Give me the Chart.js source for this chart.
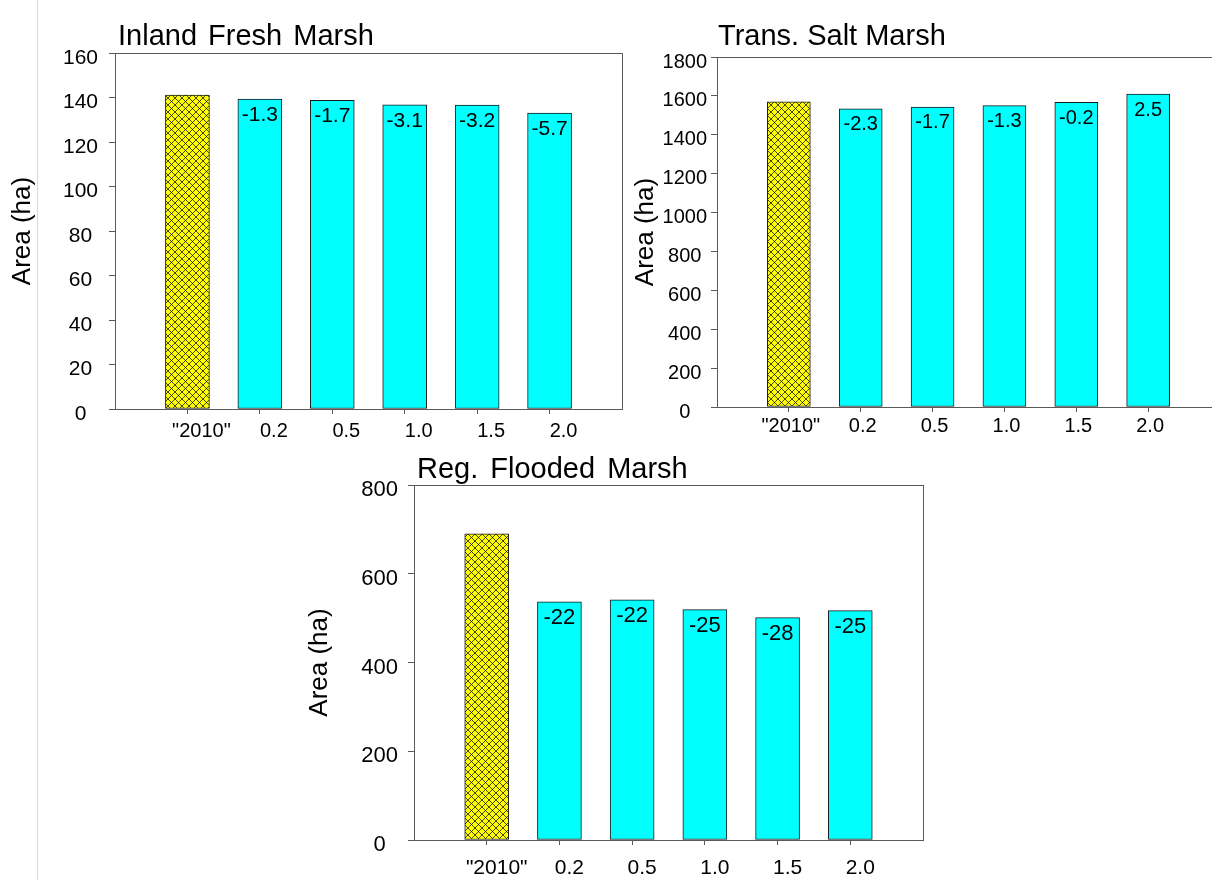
<!DOCTYPE html>
<html>
<head>
<meta charset="utf-8">
<script src="https://cdn.jsdelivr.net/npm/chart.js@4/dist/chart.umd.min.js"></script>
<style>
  html, body { margin: 0; padding: 0; background: #fff; }
  body { width: 1212px; height: 880px; position: relative; overflow: hidden; }
  .edge { position: absolute; left: 37px; top: 0; width: 1px; height: 880px; background: #d9d9d9; }
  .panel { position: absolute; }
</style>
</head>
<body>
<div class="edge"></div>
<div class="panel" style="left:0px;top:0px;"><canvas id="freshChart" width="640" height="450"></canvas></div>
<div class="panel" style="left:617px;top:0px;"><canvas id="saltChart" width="620" height="450"></canvas></div>
<div class="panel" style="left:300px;top:450px;"><canvas id="floodedChart" width="640" height="430"></canvas></div>
<script>
// scenario categories (sea level rise, m)
const scenarioLabels = ['"2010"', '0.2', '0.5', '1.0', '1.5', '2.0'];

// Inland Fresh Marsh
const freshMarshArea = [141.1, 139.3, 138.7, 136.7, 136.6, 133.0];
const freshMarshChange = ['', '-1.3', '-1.7', '-3.1', '-3.2', '-5.7'];

// Trans. Salt Marsh
const saltMarshArea = [1570, 1534, 1543, 1550, 1567, 1609];
const saltMarshChange = ['', '-2.3', '-1.7', '-1.3', '-0.2', '2.5'];

// Reg. Flooded Marsh
const floodedMarshArea = [690, 537, 541, 519, 501, 517];
const floodedMarshChange = ['', '-22', '-22', '-25', '-28', '-25'];

const FONT = '"Liberation Sans", Arial, sans-serif';
const AXIS_COLOR = '#5a5a5a';

document.addEventListener('DOMContentLoaded', function() {

    function makeHatch() {
        const c = document.createElement('canvas');
        c.width = 7;
        c.height = 7;
        const g = c.getContext('2d');
        g.fillStyle = '#ffff00';
        g.fillRect(0, 0, 7, 7);
        g.strokeStyle = 'rgba(0,0,0,0.8)';
        g.lineWidth = 0.9;
        g.beginPath();
        g.moveTo(-1, -1); g.lineTo(8, 8);
        g.moveTo(-1, 8); g.lineTo(8, -1);
        g.stroke();
        return g.createPattern(c, 'repeat');
    }

    // frame box, panel title and % change labels inside the bars
    const marshDecor = {
        id: 'marshDecor',
        afterDatasetsDraw(chart, args, opts) {
            const ctx = chart.ctx;
            const area = chart.chartArea;
            ctx.save();
            ctx.strokeStyle = AXIS_COLOR;
            ctx.lineWidth = 1;
            ctx.strokeRect(Math.round(area.left) + 0.5, Math.round(area.top) + 0.5,
                Math.round(area.right - area.left), Math.round(area.bottom - area.top));

            ctx.fillStyle = '#000';
            ctx.font = opts.titleSize + 'px ' + FONT;
            ctx.textAlign = 'left';
            ctx.textBaseline = 'alphabetic';
            if ('wordSpacing' in ctx) ctx.wordSpacing = opts.wordSpacing + 'px';
            ctx.fillText(opts.title, area.left + opts.titleDx, area.top - opts.titleGap);
            if ('wordSpacing' in ctx) ctx.wordSpacing = '0px';

            ctx.font = opts.labelSize + 'px ' + FONT;
            ctx.textAlign = 'center';
            ctx.textBaseline = 'middle';
            const meta = chart.getDatasetMeta(0);
            meta.data.forEach(function(bar, i) {
                const txt = opts.labels[i];
                if (!txt) return;
                ctx.fillText(txt, bar.x, bar.y + 16);
            });
            ctx.restore();
        }
    };

    function buildChart(canvasId, values, changes, cfg) {
        const ctx = document.getElementById(canvasId).getContext('2d');
        const hatch = makeHatch();
        const points = values.map((v, i) => ({ x: i + 1, y: v }));
        const fills = values.map((v, i) => i === 0 ? hatch : '#00ffff');

        return new Chart(ctx, {
            type: 'bar',
            data: {
                datasets: [{
                    label: 'Area',
                    data: points,
                    backgroundColor: fills,
                    borderColor: '#1a1a1a',
                    borderWidth: 1,
                    borderSkipped: false,
                    barThickness: cfg.barWidth
                }]
            },
            options: {
                responsive: false,
                animation: false,
                events: [],
                layout: { padding: { top: cfg.padTop, right: cfg.padRight, left: 0, bottom: 0 } },
                plugins: {
                    legend: { display: false },
                    tooltip: { enabled: false },
                    marshDecor: {
                        title: cfg.title,
                        titleSize: cfg.titleSize,
                        titleGap: cfg.titleGap,
                        titleDx: cfg.titleDx,
                        wordSpacing: cfg.wordSpacing,
                        labels: changes,
                        labelSize: cfg.labelSize
                    }
                },
                scales: {
                    x: {
                        type: 'linear',
                        offset: false,
                        min: 0,
                        max: scenarioLabels.length + 1,
                        afterBuildTicks: function(axis) {
                            axis.ticks = scenarioLabels.map((l, i) => ({ value: i + 1 }));
                        },
                        afterFit: function(axis) { axis.height = cfg.xHeight; },
                        grid: { display: true, offset: false, drawOnChartArea: false, drawTicks: true, tickLength: 5, color: AXIS_COLOR },
                        border: { display: true, color: AXIS_COLOR, width: 1 },
                        ticks: {
                            autoSkip: false,
                            maxRotation: 0,
                            padding: cfg.xPad,
                            labelOffset: cfg.xLabelOffset,
                            color: '#000',
                            font: { family: FONT, size: cfg.xFont },
                            callback: function(value) { return scenarioLabels[value - 1] || ''; }
                        }
                    },
                    y: {
                        min: 0,
                        max: cfg.yMax,
                        afterFit: function(axis) { axis.width = cfg.yWidth; },
                        grid: { display: true, drawOnChartArea: false, drawTicks: true, tickLength: 6, color: AXIS_COLOR },
                        border: { display: true, color: AXIS_COLOR, width: 1 },
                        ticks: {
                            stepSize: cfg.yStep,
                            crossAlign: 'center',
                            padding: cfg.yPad,
                            labelOffset: 5,
                            color: '#000',
                            font: { family: FONT, size: cfg.yFont },
                            callback: function(value) { return String(value); }
                        },
                        title: {
                            display: true,
                            text: 'Area (ha)',
                            color: '#000',
                            padding: { top: cfg.yTitlePad, bottom: 0 },
                            font: { family: FONT, size: cfg.yTitleSize }
                        }
                    }
                }
            },
            plugins: [marshDecor]
        });
    }

    buildChart('freshChart', freshMarshArea, freshMarshChange, {
        title: 'Inland Fresh Marsh', titleSize: 29, titleGap: 8, titleDx: 3, wordSpacing: 3,
        padTop: 53, padRight: 18, xHeight: 41, yWidth: 115,
        yMax: 160, yStep: 20, yFont: 21, yPad: 11, xFont: 20, xPad: 5, xLabelOffset: 14,
        yTitleSize: 26, yTitlePad: 7, labelSize: 21, barWidth: 44
    });

    buildChart('saltChart', saltMarshArea, saltMarshChange, {
        title: 'Trans. Salt Marsh', titleSize: 29, titleGap: 12, titleDx: 1, wordSpacing: 0,
        padTop: 57, padRight: 17, xHeight: 43, yWidth: 100,
        yMax: 1800, yStep: 200, yFont: 20, yPad: 4, xFont: 20, xPad: 2, xLabelOffset: 2,
        yTitleSize: 26, yTitlePad: 13, labelSize: 20, barWidth: 43
    });

    buildChart('floodedChart', floodedMarshArea, floodedMarshChange, {
        title: 'Reg. Flooded Marsh', titleSize: 29, titleGap: 7, titleDx: 3, wordSpacing: 4,
        padTop: 35, padRight: 17, xHeight: 40, yWidth: 114,
        yMax: 800, yStep: 200, yFont: 22, yPad: 10, xFont: 21, xPad: 11, xLabelOffset: 10,
        yTitleSize: 26, yTitlePad: 4, labelSize: 22, barWidth: 44
    });
});
</script>
</body>
</html>
